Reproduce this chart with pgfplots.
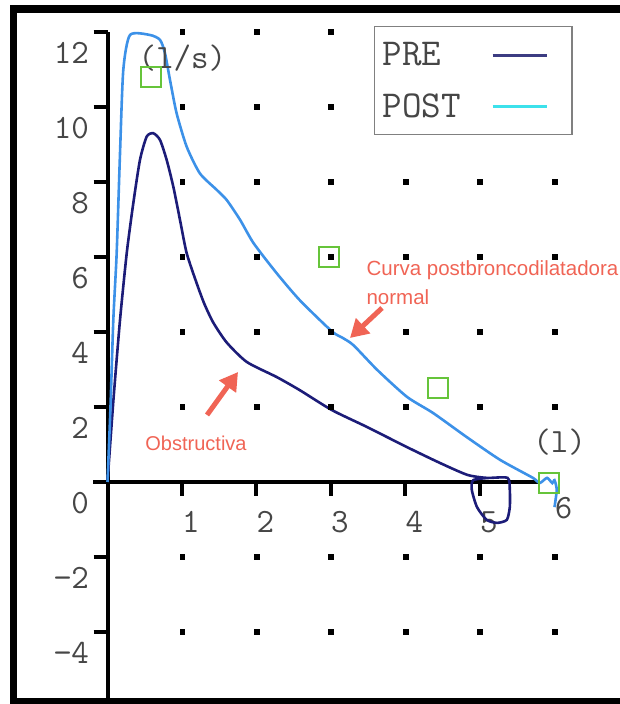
\documentclass[border=0pt]{standalone}
\usepackage{fontspec}
\newfontfamily\annotfont{Liberation Sans}
\usepackage{pgfplots}
\pgfplotsset{compat=1.18}
\usetikzlibrary{arrows.meta}
\definecolor{prec}{RGB}{28,28,120}
\definecolor{postc}{RGB}{60,145,232}
\definecolor{prelg}{RGB}{60,60,130}
\definecolor{postlg}{RGB}{60,225,235}
\definecolor{sq}{RGB}{102,196,58}
\definecolor{annot}{RGB}{240,100,85}
\definecolor{ticklab}{RGB}{70,70,70}
\begin{document}
\begin{tikzpicture}
\begin{axis}[name=ax, width=619pt, height=704pt, scale only axis,
  xmin=-1.443, xmax=6.866, ymin=-5.92, ymax=12.853,
  axis lines=middle, axis line style={draw=none},
  hide obscured y ticks=false, hide obscured x ticks=false,
  clip=false,
  xtick={1,2,3,4,5}, xticklabels={1,2,3,4,5},
  extra x ticks={6}, extra x tick labels={6},
  extra x tick style={major tick length=0pt},
  ytick={-4,-2,0,2,4,6,8,10,12},
  yticklabels={−4,−2,0,2,4,6,8,10,12},
  tick align=outside, major tick length=14pt,
  tick style={line width=4pt, black},
  ticklabel style={font=\ttfamily\fontsize{34}{34}\selectfont, text=ticklab},
  yticklabel style={anchor=east, yshift=-21pt, xshift=-1pt},
  xticklabel style={anchor=north, xshift=9pt, yshift=-12pt},
  legend style={at={(axis cs:3.577,12.16)}, anchor=north west, draw=gray, line width=1.5pt,
    fill=white, font=\ttfamily\fontsize{38}{38}\selectfont, text=ticklab,
    inner xsep=6pt, inner ysep=14pt, row sep=22pt},
  legend cell align=left, legend plot pos=right,
  legend image code/.code={\path (0pt,0pt); \draw[#1] (28pt,0pt) -- (82pt,0pt); \path (100pt,0pt);},
]
% axis lines
\draw[line width=4pt, black] (axis cs:0,-5.8) -- (axis cs:0,12);
\draw[line width=4pt, black] (axis cs:-0.19,0) -- (axis cs:5.8,0);
% frame
\draw[line width=7.5pt, black] (rel axis cs:1.1,0.98722) -- (rel axis cs:0.02181,0.98722)
  -- (rel axis cs:0.02181,0.00355) -- (rel axis cs:1.1,0.00355);
% dot grid
\addplot[only marks, mark=square*, mark size=2.3pt, black, forget plot] coordinates {
 (1,12)(2,12)(3,12)(4,12)(5,12)(6,12)
 (1,10)(2,10)(3,10)(4,10)(5,10)(6,10)
 (1,8)(2,8)(3,8)(4,8)(5,8)(6,8)
 (1,6)(2,6)(3,6)(4,6)(5,6)(6,6)
 (1,4)(2,4)(3,4)(4,4)(5,4)(6,4)
 (1,2)(2,2)(3,2)(4,2)(5,2)(6,2)
 (1,-2)(2,-2)(3,-2)(4,-2)(5,-2)(6,-2)
 (1,-4)(2,-4)(3,-4)(4,-4)(5,-4)(6,-4)
};
% green squares
\addplot[only marks, mark=square, mark size=10pt, mark options={line width=2pt, draw=sq}, forget plot]
 coordinates {(0.59,10.8)(2.97,6.0)(4.44,2.5)(5.93,-0.03)};
% PRE
\addplot[prec, line width=2.6pt, smooth, tension=0.4, forget plot] coordinates {
 (0,0)(0.08,2.2)(0.168,4.32)(0.258,6.10)(0.346,7.43)(0.436,8.59)(0.526,9.21)(0.615,9.30)
 (0.705,9.12)(0.794,8.59)(0.884,7.87)(0.973,6.99)(1.063,6.10)(1.197,5.30)(1.3,4.75)
 (1.42,4.25)(1.6,3.72)(1.87,3.2)(2.27,2.8)(2.58,2.45)(3.01,1.92)(3.48,1.47)(4.02,0.93)(4.46,0.51)
 (4.83,0.19)(5.09,0.11)(5.37,0.11)(5.40,-0.21)(5.40,-0.67)(5.36,-1.01)(5.23,-1.09)
 (5.09,-1.01)(4.96,-0.67)(4.89,-0.21)(4.91,0.05)(5.13,0.11)
};
% POST
\addplot[postc, line width=2.6pt, smooth, tension=0.4, forget plot] coordinates {
 (0,0)(0.04,2.0)(0.078,4.32)(0.123,6.1)(0.168,8.77)(0.212,10.99)(0.302,11.92)(0.57,11.92)
 (0.705,11.79)(0.772,11.43)(0.839,10.72)(0.928,9.83)(1.063,8.94)(1.24,8.23)(1.466,7.79)
 (1.6,7.52)(1.78,6.99)(1.96,6.37)(2.27,5.57)(2.58,4.85)(3.01,4.02)(3.15,3.85)(3.3,3.65)
 (3.62,2.99)(4.02,2.27)(4.37,1.84)(4.82,1.2)(5.27,0.59)(5.71,0.11)(5.8,-0.03)(5.9,0.11)
 (5.97,-0.03)(6.0,0.05)(6.03,-0.21)(6.0,-0.67)
};
\addlegendimage{prelg, line width=3pt}
\addlegendentry{PRE}
\addlegendimage{postlg, line width=3pt}
\addlegendentry{POST}
% unit labels
\node[anchor=west, text=ticklab, font=\ttfamily\fontsize{34}{34}\selectfont] at (axis cs:0.37,11.3) {(l/s)};
\node[anchor=west, text=ticklab, font=\ttfamily\fontsize{34}{34}\selectfont] at (axis cs:5.67,1.07) {(l)};
% annotations
\node[text=annot, font=\annotfont\fontsize{20}{20}\selectfont] at (axis cs:1.188,1.04) {Obstructiva};
\draw[annot, line width=5pt, -{Triangle[length=18pt,width=20pt]}] (axis cs:1.336,1.787) -- (axis cs:1.752,2.933);
\node[anchor=west, text=annot, font=\annotfont\fontsize{20.5}{20.5}\selectfont] at (axis cs:3.43,5.65) {Curva postbroncodilatadora};
\node[anchor=west, text=annot, font=\annotfont\fontsize{20.5}{20.5}\selectfont] at (axis cs:3.43,4.93) {normal};
\draw[annot, line width=5pt, -{Triangle[length=18pt,width=20pt]}] (axis cs:3.685,4.64) -- (axis cs:3.255,3.84);
\end{axis}
\pgfresetboundingbox
\useasboundingbox (ax.south west) rectangle (ax.north east);
\end{tikzpicture}
\end{document}
